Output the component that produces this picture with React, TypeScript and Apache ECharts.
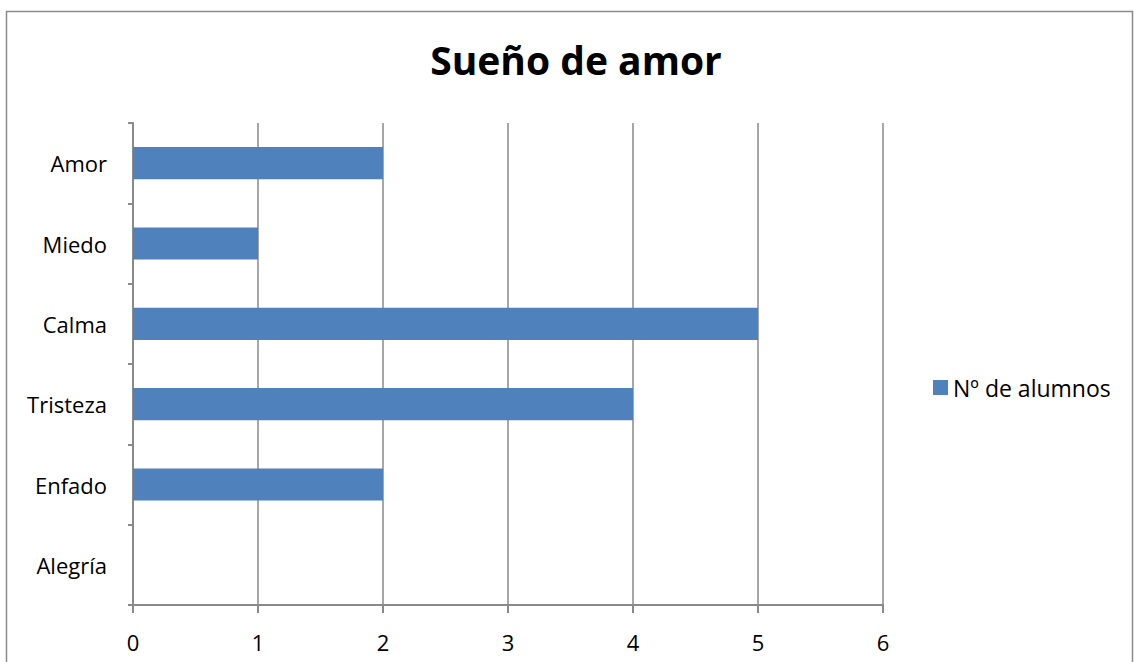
import React, { useEffect, useRef } from "react";
import * as echarts from "echarts";

const titleText = "Sueño de amor";
const seriesName = "Nº de alumnos";
const categories = ["Alegría", "Enfado", "Tristeza", "Calma", "Miedo", "Amor"];
const values = [0, 2, 4, 5, 1, 2];
const xMin = 0;
const xMax = 6;
const xInterval = 1;

const FONT = "'Open Sans', 'Liberation Sans', sans-serif";
const GRID_COLOR = "#8a8a8a";
const BAR_COLOR = "#4f81bd";

export default function App() {
  const ref = useRef<HTMLDivElement>(null);
  useEffect(() => {
    if (!ref.current) return;
    const chart = echarts.init(ref.current, undefined, { renderer: "svg" });
    chart.setOption({
      animation: false,
      backgroundColor: "#ffffff",
      textStyle: { fontFamily: FONT },
      title: {
        text: titleText,
        left: 571,
        textAlign: "center",
        top: 35,
        textStyle: { fontFamily: FONT, fontSize: 39, fontWeight: "bold", color: "#000" },
      },
      legend: {
        data: [seriesName],
        left: 928,
        top: 371,
        icon: "rect",
        itemWidth: 15,
        itemHeight: 15,
        itemGap: 5,
        textStyle: { fontFamily: FONT, fontSize: 23, color: "#000" },
      },
      grid: { left: 133, right: 251, top: 123, bottom: 57, containLabel: false },
      xAxis: {
        type: "value",
        min: xMin,
        max: xMax,
        interval: xInterval,
        axisLine: { show: true, lineStyle: { color: GRID_COLOR, width: 2 } },
        axisTick: { show: true, length: 8, lineStyle: { color: GRID_COLOR, width: 2 } },
        splitLine: { show: true, lineStyle: { color: GRID_COLOR, width: 1.5 } },
        axisLabel: { fontFamily: FONT, fontSize: 22, color: "#000", margin: 26 },
      },
      yAxis: {
        type: "category",
        data: categories,
        boundaryGap: true,
        axisLine: { show: true, lineStyle: { color: GRID_COLOR, width: 2 } },
        axisTick: { show: true, length: 5, alignWithLabel: false, lineStyle: { color: GRID_COLOR, width: 2 } },
        splitLine: { show: false },
        axisLabel: { fontFamily: FONT, fontSize: 22, color: "#000", margin: 26 },
      },
      series: [
        {
          name: seriesName,
          type: "bar",
          data: values,
          barWidth: "40%",
          itemStyle: { color: BAR_COLOR },
        },
      ],
      graphic: [
        {
          type: "rect",
          shape: { x: 6.5, y: 11.5, width: 1126, height: 700 },
          style: { fill: "none", stroke: "#8a8a8a", lineWidth: 1.5 },
          silent: true,
        },
      ],
    });
    return () => chart.dispose();
  }, []);
  return (
    <div
      ref={ref}
      style={{ position: "absolute", left: 0, top: 0, width: 1134, height: 662 }}
    />
  );
}
